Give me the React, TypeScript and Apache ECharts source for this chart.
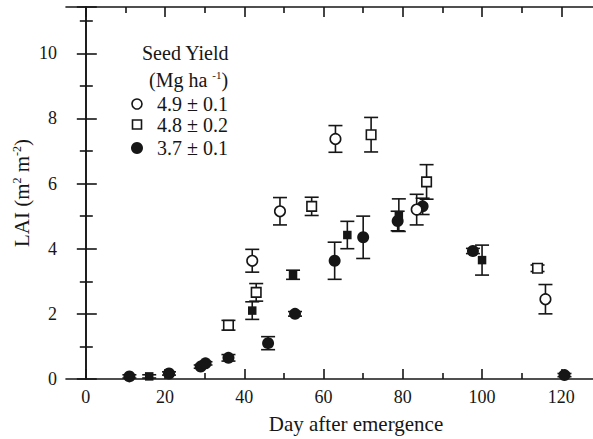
import React, { useEffect, useRef } from "react";
import * as echarts from "echarts";

// Axis tick positions
const xMajorTicks = [0, 20, 40, 60, 80, 100, 120];
const xMinorTicks = [10, 30, 50, 70, 90, 110];

// Seed yield 4.9 ± 0.1 Mg/ha (open circles)
const highDays = [42, 49, 63, 83.5, 116];
const highLai = [3.63, 5.15, 7.37, 5.2, 2.45];
const highErr = [0.35, 0.42, 0.41, 0.47, 0.45];

// Seed yield 4.8 ± 0.2 Mg/ha (open squares)
const midDays = [36, 43, 57, 72, 86, 114];
const midLai = [1.65, 2.66, 5.3, 7.5, 6.05, 3.4];
const midErr = [0.15, 0.27, 0.28, 0.53, 0.53, 0.1];

// Seed yield 3.7 ± 0.1 Mg/ha (filled circles)
const lowDays = [11, 21, 29, 30.2, 36, 46, 52.8, 62.8, 70, 78.7, 85, 97.7, 120.8];
const lowLai = [0.08, 0.17, 0.38, 0.48, 0.65, 1.1, 2.0, 3.63, 4.35, 4.85, 5.3, 3.93, 0.12];
const lowErr = [0.05, 0.05, 0.05, 0.05, 0.1, 0.2, 0.07, 0.57, 0.65, 0.3, 0.25, 0.08, 0.05];

// Additional sampling (filled squares)
const extraDays = [16, 42, 52.3, 66, 79, 100];
const extraLai = [0.08, 2.1, 3.2, 4.42, 5.03, 3.65];
const extraErr = [0.05, 0.27, 0.14, 0.42, 0.5, 0.46];

const legendLabels = ["4.9 \u00b1 0.1", "4.8 \u00b1 0.2", "3.7 \u00b1 0.1"];

const INK = "#161616";
const FONT = "Liberation Serif, serif";

const zip = (xs: number[], ys: number[], es?: number[]) =>
  xs.map((x, i) => (es ? [x, ys[i], es[i]] : [x, ys[i]]));

const errorBars = (xs: number[], ys: number[], es: number[]) => ({
  type: "custom",
  z: 1,
  silent: true,
  renderItem: (_params: any, api: any) => {
    const x = api.value(0);
    const y = api.value(1);
    const e = api.value(2);
    const top = api.coord([x, y + e]);
    const bot = api.coord([x, y - e]);
    const hw = 7;
    const style = { stroke: INK, lineWidth: 1.6 };
    return {
      type: "group",
      children: [
        { type: "line", shape: { x1: top[0], y1: top[1], x2: bot[0], y2: bot[1] }, style },
        { type: "line", shape: { x1: top[0] - hw, y1: top[1], x2: top[0] + hw, y2: top[1] }, style },
        { type: "line", shape: { x1: bot[0] - hw, y1: bot[1], x2: bot[0] + hw, y2: bot[1] }, style },
      ],
    };
  },
  data: zip(xs, ys, es),
});

const markers = (xs: number[], ys: number[], symbol: string, size: number, filled: boolean) => ({
  type: "scatter",
  z: 3,
  symbol,
  symbolSize: size,
  itemStyle: {
    color: filled ? INK : "#ffffff",
    borderColor: INK,
    borderWidth: filled ? 0 : 1.6,
    opacity: 1,
  },
  data: zip(xs, ys),
});

const xAxisBase = {
  type: "value",
  min: -5,
  max: 128,
  splitLine: { show: false },
};

export default function App() {
  const ref = useRef<HTMLDivElement>(null);

  useEffect(() => {
    if (!ref.current) return;
    const chart = echarts.init(ref.current, undefined, { renderer: "svg" });
    const axisLine = { show: true, lineStyle: { color: INK, width: 1.6 } };

    chart.setOption({
      animation: false,
      backgroundColor: "#ffffff",
      textStyle: { fontFamily: FONT },
      grid: { left: 66, top: 7, width: 528, height: 372 },
      xAxis: [
        {
          ...xAxisBase,
          position: "bottom",
          axisLine,
          axisTick: { inside: true, length: 10, lineStyle: { color: INK, width: 1.6 }, customValues: xMajorTicks },
          axisLabel: {
            customValues: xMajorTicks,
            fontSize: 18,
            fontFamily: FONT,
            color: INK,
            margin: 9,
          },
        },
        {
          ...xAxisBase,
          position: "bottom",
          axisLine: { show: false },
          axisTick: { inside: true, length: 6, lineStyle: { color: INK, width: 1.6 }, customValues: xMinorTicks },
          axisLabel: { show: false },
        },
        {
          ...xAxisBase,
          position: "top",
          axisLine,
          axisTick: { inside: true, length: 10, lineStyle: { color: INK, width: 1.6 }, customValues: xMajorTicks },
          axisLabel: { show: false },
        },
        {
          ...xAxisBase,
          position: "top",
          axisLine: { show: false },
          axisTick: { inside: true, length: 6, lineStyle: { color: INK, width: 1.6 }, customValues: xMinorTicks },
          axisLabel: { show: false },
        },
      ],
      yAxis: [
        {
          type: "value",
          min: 0,
          max: 11.42,
          interval: 2,
          position: "left",
          axisLine,
          splitLine: { show: false },
          axisTick: { inside: true, length: 11, lineStyle: { color: INK, width: 1.6 } },
          minorTick: { show: true, splitNumber: 2, length: 7, lineStyle: { color: INK, width: 1.6 } },
          axisLabel: { fontSize: 18, fontFamily: FONT, color: INK, margin: 9, showMaxLabel: false },
        },
        {
          type: "value",
          min: 0,
          max: 11.42,
          interval: 2,
          position: "right",
          axisLine,
          splitLine: { show: false },
          axisTick: { inside: true, length: 9, lineStyle: { color: INK, width: 1.6 } },
          minorTick: { show: true, splitNumber: 2, length: 6, lineStyle: { color: INK, width: 1.6 } },
          axisLabel: { show: false },
        },
      ],
      series: [
        errorBars(highDays, highLai, highErr),
        errorBars(midDays, midLai, midErr),
        errorBars(lowDays, lowLai, lowErr),
        errorBars(extraDays, extraLai, extraErr),
        markers(lowDays, lowLai, "circle", 12, true),
        markers(extraDays, extraLai, "rect", 8.5, true),
        markers(midDays, midLai, "rect", 9.5, false),
        markers(highDays, highLai, "circle", 10.5, false),
      ],
      graphic: [
        // axis titles
        {
          type: "text",
          x: 356,
          y: 424,
          style: {
            text: "Day after emergence",
            fontSize: 21,
            fontFamily: FONT,
            fill: INK,
            align: "center",
            verticalAlign: "middle",
          },
        },
        {
          type: "text",
          x: 22,
          y: 193,
          rotation: Math.PI / 2,
          style: {
            text: "LAI (m{sup|2} m{sup|-2})",
            fontSize: 21,
            fontFamily: FONT,
            fill: INK,
            align: "center",
            verticalAlign: "middle",
            rich: {
              sup: { fontSize: 12, fontFamily: FONT, fill: INK, verticalAlign: "top", lineHeight: 22 },
            },
          },
        },
        // legend
        {
          type: "text",
          x: 142,
          y: 53,
          style: { text: "Seed Yield", fontSize: 20, fontFamily: FONT, fill: INK, verticalAlign: "middle" },
        },
        {
          type: "text",
          x: 149,
          y: 80,
          style: {
            text: "(Mg ha {sup|-1})",
            fontSize: 20,
            fontFamily: FONT,
            fill: INK,
            verticalAlign: "middle",
            rich: {
              sup: { fontSize: 11, fontFamily: FONT, fill: INK, verticalAlign: "top", lineHeight: 22 },
            },
          },
        },
        {
          type: "circle",
          shape: { cx: 137, cy: 104, r: 5 },
          style: { fill: "#ffffff", stroke: INK, lineWidth: 1.6 },
        },
        {
          type: "rect",
          shape: { x: 132.5, y: 120, width: 9, height: 9 },
          style: { fill: "#ffffff", stroke: INK, lineWidth: 1.6 },
        },
        {
          type: "circle",
          shape: { cx: 137, cy: 148, r: 6 },
          style: { fill: INK },
        },
        ...legendLabels.map((t, i) => ({
          type: "text",
          x: 157,
          y: [104, 125, 148][i],
          style: { text: t, fontSize: 20, fontFamily: FONT, fill: INK, verticalAlign: "middle" },
        })),
      ],
    });

    return () => chart.dispose();
  }, []);

  return (
    <div
      ref={ref}
      style={{ position: "fixed", left: 0, top: 0, width: 593, height: 439, background: "#fff" }}
    />
  );
}
